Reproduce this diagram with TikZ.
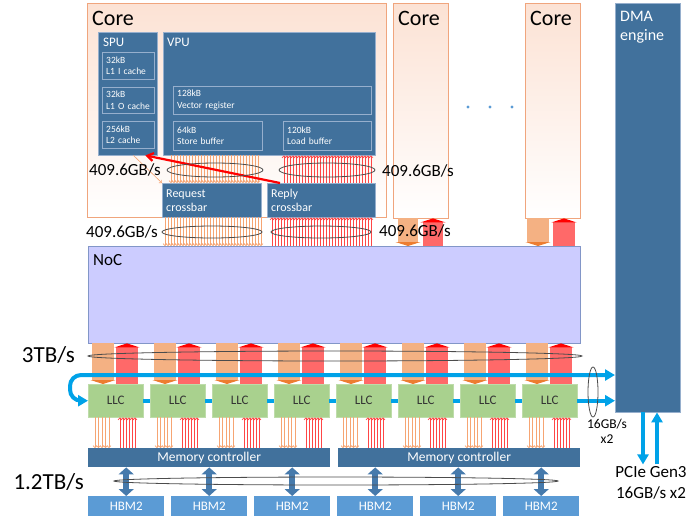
\documentclass[tikz,border=0pt]{standalone}
\usepackage{fontspec}
\setmainfont{Carlito}
\usetikzlibrary{arrows.meta,shapes.geometric}

\definecolor{boxblue}{RGB}{65,113,156}
\definecolor{linkblue}{RGB}{70,122,172}
\definecolor{lineblue}{RGB}{150,175,205}
\definecolor{coreorange}{RGB}{240,165,125}
\definecolor{corepink}{RGB}{252,226,212}
\definecolor{nocfill}{RGB}{204,204,255}
\definecolor{nocline}{RGB}{130,150,200}
\definecolor{llcgreen}{RGB}{169,209,142}
\definecolor{llcline}{RGB}{190,220,170}
\definecolor{hbmblue}{RGB}{91,155,213}
\definecolor{busblue}{RGB}{0,162,232}
\definecolor{reqorange}{RGB}{244,177,131}
\definecolor{reqdark}{RGB}{237,125,49}
\definecolor{reqthin}{RGB}{246,165,115}
\definecolor{repred}{RGB}{255,105,105}
\definecolor{repthin}{RGB}{255,70,70}

\begin{document}
\begin{tikzpicture}[x=1pt,y=-1pt]
	\tikzstyle{CoreStyle}  = [draw=coreorange, top color=corepink, middle color=white, bottom color=white, anchor=north west, inner sep=0pt]
	\tikzstyle{TitleStyle} = [anchor=north west, inner xsep=5pt, inner ysep=8pt]
	\tikzstyle{UnitStyle}  = [draw=lineblue, fill=boxblue, anchor=north west, inner sep=0pt]
	\tikzstyle{MemStyle}   = [draw=lineblue, fill=boxblue, text=white, anchor=north west, inner xsep=4pt, inner ysep=1pt, align=left, font=\fontsize{9.5}{11.5}\selectfont]
	\tikzstyle{XbarStyle}  = [MemStyle, font=\fontsize{12}{14}\selectfont]
	\tikzstyle{LLCStyle}   = [draw=llcline, fill=llcgreen, anchor=north west, minimum width=55pt, minimum height=33pt, inner sep=1pt, text=black!80, font=\fontsize{13}{15}\selectfont]
	\tikzstyle{MCStyle}    = [fill=boxblue, anchor=north west, minimum width=242pt, minimum height=19pt, inner sep=1pt, text=white, font=\fontsize{13.5}{15}\selectfont]
	\tikzstyle{HBMStyle}   = [fill=hbmblue, anchor=north west, minimum width=76pt, minimum height=20pt, inner sep=1pt, text=white, font=\fontsize{13}{15}\selectfont]
	\tikzstyle{RateStyle}  = [inner sep=0pt, font=\fontsize{17}{19}\selectfont]
	\tikzstyle{BigRate}    = [inner sep=0pt, font=\fontsize{23}{25}\selectfont]
	\tikzstyle{BandStyle}  = [draw=black!70, ellipse, inner sep=0pt, line width=0.8pt]
	\tikzstyle{WideReq}    = [reqorange, line width=22pt, -{Triangle[length=4pt,width=25pt,color=reqdark]}]
	\tikzstyle{WideRep}    = [repred, line width=22pt, -{Triangle[length=4pt,width=25pt,color=red]}]
	\tikzstyle{ThinReq}    = [reqthin, line width=0.6pt, -{Straight Barb[length=2pt,width=4pt]}]
	\tikzstyle{ThinRep}    = [repthin, line width=0.6pt, -{Straight Barb[length=2pt,width=4pt]}]
	\tikzstyle{Bus}        = [busblue, line width=4pt, -{Triangle[length=10pt,width=11pt]}]
	\tikzstyle{HBMLink}    = [linkblue, line width=5.5pt, {Triangle[length=7pt,width=15pt]}-{Triangle[length=7pt,width=15pt]}]

	\useasboundingbox (0,0) rectangle (700,523);

	% cores and DMA
	\node[CoreStyle, minimum width=299pt, minimum height=214pt, label={[TitleStyle, font=\fontsize{22}{24}\selectfont]north west:Core}] (core1) at (87,3) {};
	\node[CoreStyle, minimum width=55pt, minimum height=215pt, label={[TitleStyle, font=\fontsize{22}{24}\selectfont]north west:Core}] (core2) at (393,3) {};
	\node[CoreStyle, minimum width=55pt, minimum height=215pt, label={[TitleStyle, font=\fontsize{22}{24}\selectfont]north west:Core}] (core3) at (525,3) {};
	\node[UnitStyle, minimum width=65pt, minimum height=409pt, label={[TitleStyle, text=white, align=left, font=\fontsize{16}{19}\selectfont]north west:DMA\\engine}] (dma) at (615,3) {};
	\foreach \x in {468,490,512} \fill[hbmblue] (\x,107) circle (1.6pt);

	% inside the first core
	\node[UnitStyle, minimum width=59pt, minimum height=123pt, label={[TitleStyle, inner ysep=6pt, text=white, font=\fontsize{13}{15}\selectfont]north west:SPU}] (spu) at (98,32) {};
	\node[UnitStyle, minimum width=212pt, minimum height=123pt, label={[TitleStyle, inner xsep=4pt, inner ysep=6pt, text=white, font=\fontsize{13}{15}\selectfont]north west:VPU}] (vpu) at (163,32) {};
	\node[MemStyle, text width=44pt, minimum height=27pt] (l1i) at (102,52) {32kB\\L1 I cache};
	\node[MemStyle, text width=44pt, minimum height=26pt] (l1o) at (102,87) {32kB\\L1 O cache};
	\node[MemStyle, text width=44pt, minimum height=27pt] (l2) at (102,121) {256kB\\L2 cache};
	\node[MemStyle, text width=190pt, minimum height=28pt] (vreg) at (173,86) {128kB\\Vector register};
	\node[MemStyle, text width=81pt, minimum height=29pt] (sbuf) at (173,121) {64kB\\Store buffer};
	\node[MemStyle, text width=80pt, minimum height=29pt] (lbuf) at (283,121) {120kB\\Load buffer};
	\node[XbarStyle, text width=91pt, minimum height=34pt] (req) at (162,183) {Request\\crossbar};
	\node[XbarStyle, text width=100pt, minimum height=34pt] (rep) at (267,183) {Reply\\crossbar};

	\foreach \x in {171,174,...,258} \draw[ThinReq] (\x,0 |- vpu.south) -- (\x,0 |- req.north);
	\foreach \x in {284,287,...,373} \draw[ThinRep] (\x,0 |- rep.north) -- (\x,0 |- vpu.south);
	\draw[ThinReq] ([xshift=-24pt]spu.south east) -- (req.north west);
	\draw[red, line width=2.2pt, -{Straight Barb[length=6pt,width=8pt]}] ([xshift=13pt]rep.north west) -- ([xshift=-12pt]spu.south east);

	% network on chip
	\node[draw=nocline, fill=nocfill, anchor=north west, inner sep=0pt, minimum width=492pt, minimum height=97pt, label={[TitleStyle, font=\fontsize{17}{19}\selectfont]north west:NoC}] (noc) at (88,246) {};
	\foreach \x in {165,168,...,261} \draw[ThinReq] (\x,0 |- req.south) -- (\x,0 |- noc.north);
	\foreach \x in {272,275,...,372} \draw[ThinRep] (\x,0 |- noc.north) -- (\x,0 |- rep.south);
	\draw[WideReq, line width=20pt] (408,0 |- core2.south) -- (408,0 |- noc.north);
	\draw[WideRep, line width=20pt] (433,0 |- noc.north) -- (433,0 |- core2.south);
	\draw[WideReq] (538,0 |- core3.south) -- (538,0 |- noc.north);
	\draw[WideRep] (564,0 |- noc.north) -- (564,0 |- core3.south);

	% last level caches
	\foreach \i in {0,...,7} \node[LLCStyle] (llc\i) at (88+62*\i,384) {LLC};
	\foreach \i [evaluate=\i as \j using int(\i+1)] in {0,...,6} \draw[busblue, line width=4pt] (llc\i.east) -- (llc\j.west);
	\draw[Bus] (llc7.east) -- (dma.west |- llc7.east);
	\foreach \i in {0,...,7} {
		\draw[WideReq] (103+62*\i,0 |- noc.south) -- (103+62*\i,0 |- llc\i.north);
		\draw[WideRep] (127+62*\i,0 |- llc\i.north) -- (127+62*\i,0 |- noc.south);
	}
	\draw[Bus, {Triangle[length=10pt,width=11pt]}-{Triangle[length=10pt,width=11pt]}, rounded corners=11pt] (llc0.west) -- (70,0 |- llc0.west) -- (70,375) -- (dma.west |- 0,375);

	% memory side
	\node[MCStyle] (mc0) at (88,448) {Memory controller};
	\node[MCStyle] (mc1) at (338,448) {Memory controller};
	\foreach \i in {0,...,7} {
		\foreach \d in {7,10.5,...,21} \draw[ThinReq] (88+62*\i+\d,0 |- llc\i.south) -- (88+62*\i+\d,0 |- mc0.north);
		\foreach \d in {32,35,...,47} \draw[ThinRep] (88+62*\i+\d,0 |- mc0.north) -- (88+62*\i+\d,0 |- llc\i.south);
	}
	\foreach \i in {0,...,5} \node[HBMStyle] (hbm\i) at (88+83*\i,496) {HBM2};
	\foreach \i in {0,...,5} \draw[HBMLink] (hbm\i.north) -- (hbm\i.north |- mc0.south);

	% bandwidth marks
	\node[BandStyle, minimum width=96pt, minimum height=14pt] (bw1a) at (215,170) {};
	\node[BandStyle, minimum width=96pt, minimum height=14pt] (bw1b) at (327,170) {};
	\node[BandStyle, minimum width=100pt, minimum height=12pt] (bw2a) at (212,232) {};
	\node[BandStyle, minimum width=100pt, minimum height=12pt] (bw2b) at (321,232) {};
	\node[BandStyle, minimum width=494pt, minimum height=10pt] (bw3) at (335,356) {};
	\node[BandStyle, minimum width=444pt, minimum height=8pt] (bw4) at (336,481) {};
	\node[BandStyle, minimum width=10pt, minimum height=50pt] (bw5) at (593,392) {};
	\node[RateStyle, anchor=east] (r1) at (161,170) {409.6GB/s};
	\node[RateStyle, anchor=east] (r2) at (158,232) {409.6GB/s};
	\node[RateStyle, anchor=west] (r3) at (382,171) {409.6GB/s};
	\node[RateStyle, anchor=west] (r4) at (379,231) {409.6GB/s};
	\node[BigRate, anchor=east] (r5) at (75,355) {3TB/s};
	\node[BigRate, anchor=east] (r6) at (84,482) {1.2TB/s};
	\node[align=center, inner sep=0pt, font=\fontsize{13.5}{15}\selectfont] (r7) at (607,431) {16GB/s\\x2};

	% PCIe
	\node[align=center, inner sep=2pt, font=\fontsize{17}{21}\selectfont] (pcie) at (651,483) {PCIe Gen3\\16GB/s x2};
	\draw[Bus] (643,0 |- dma.south) -- (643,0 |- pcie.north);
	\draw[Bus] (657,0 |- pcie.north) -- (657,0 |- dma.south);
\end{tikzpicture}
\end{document}
